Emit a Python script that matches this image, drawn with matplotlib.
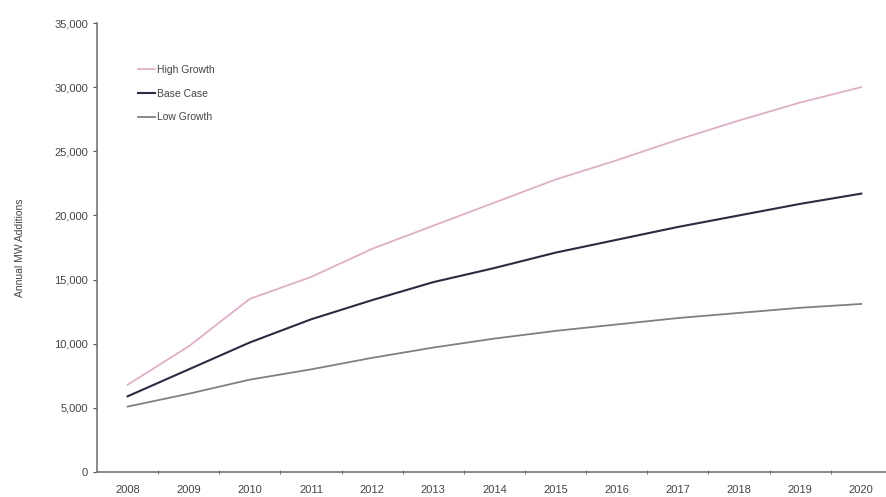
import matplotlib
matplotlib.use("Agg")
import matplotlib.pyplot as plt
from matplotlib.ticker import FuncFormatter, FixedLocator

plt.rcParams['font.family'] = ['Liberation Sans', 'DejaVu Sans']

years = ['2008', '2009', '2010', '2011', '2012', '2013', '2014',
         '2015', '2016', '2017', '2018', '2019', '2020']
high_growth = [6800, 9800, 13500, 15200, 17400, 19200, 21000,
               22800, 24300, 25900, 27400, 28800, 30000]
base_case = [5900, 8000, 10100, 11900, 13400, 14800, 15900,
             17100, 18100, 19100, 20000, 20900, 21700]
low_growth = [5100, 6100, 7200, 8000, 8900, 9700, 10400,
              11000, 11500, 12000, 12400, 12800, 13100]

fig = plt.figure(figsize=(8.87, 4.97), dpi=100)
ax = fig.add_axes([0.1094, 0.0503, 0.896, 0.9034])

x = range(len(years))
ax.plot(x, high_growth, color='#e8a6c2', lw=1.2, label='High Growth')
ax.plot(x, base_case, color='#2b2b48', lw=1.5, label='Base Case')
ax.plot(x, low_growth, color='#808080', lw=1.3, label='Low Growth')

ax.set_xlim(-0.5, len(years) - 0.5)
ax.set_ylim(0, 35000)
ax.set_yticks(range(0, 35001, 5000))
ax.yaxis.set_major_formatter(FuncFormatter(lambda v, p: f'{int(v):,}'))

# category axis: labels at centers, tick marks between categories
ax.set_xticks(list(x))
ax.set_xticklabels(years)
ax.xaxis.set_minor_locator(FixedLocator([i + 0.5 for i in range(len(years) - 1)]))
ax.tick_params(axis='x', which='major', length=0, pad=9, labelsize=8, labelcolor='#444444')
ax.tick_params(axis='x', which='minor', length=3, color='#555555', direction='inout')
ax.tick_params(axis='y', length=3, color='#555555', labelsize=8, labelcolor='#444444')

for s in ['top', 'right']:
    ax.spines[s].set_visible(False)
for s in ['left', 'bottom']:
    ax.spines[s].set_color('#777777')
    ax.spines[s].set_linewidth(1.2)

ax.set_ylabel('Annual MW Additions', fontsize=7.5, color='#444444', labelpad=21)

ax.legend(loc='upper left', bbox_to_anchor=(0.04, 0.928), frameon=False,
          fontsize=7.5, handlelength=1.6, handletextpad=0.2, labelspacing=1.33,
          labelcolor='#444444')

fig.savefig('out.png', dpi=100)
